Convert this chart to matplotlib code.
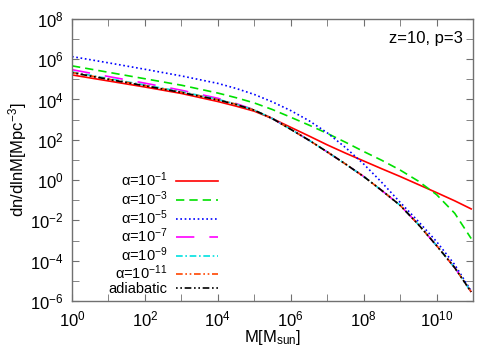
import matplotlib
matplotlib.use('Agg')
import matplotlib.pyplot as plt
from matplotlib.ticker import FixedLocator, NullFormatter

plt.rcParams['font.family'] = ['Liberation Sans', 'DejaVu Sans']
plt.rcParams['mathtext.fontset'] = 'custom'
plt.rcParams['mathtext.rm'] = 'Liberation Sans'
plt.rcParams['mathtext.it'] = 'Liberation Sans'

# log10 of halo mass [M_sun]
log_m = [0, 1, 2, 3, 4, 4.5, 5, 5.5, 6, 6.5, 7, 7.5, 8, 8.5, 9, 9.5, 10, 10.5, 10.95]

# log10 of dn/dlnM for each model
log_n_a1 = [5.22, 4.92, 4.62, 4.30, 3.90, 3.67, 3.42, 3.05, 2.62, 2.19, 1.75, 1.34,
            0.95, 0.56, 0.18, -0.22, -0.62, -1.03, -1.43]
log_n_a3 = [5.67, 5.35, 5.03, 4.71, 4.32, 4.09, 3.83, 3.50, 3.12, 2.73, 2.32, 1.88,
            1.42, 0.98, 0.50, -0.05, -0.72, -1.65, -2.90]
log_n_a5 = [6.13, 5.82, 5.50, 5.17, 4.80, 4.55, 4.25, 3.88, 3.45, 2.95, 2.35, 1.62,
            0.80, -0.12, -1.10, -2.05, -3.05, -4.20, -5.50]
log_n_a7 = [5.48, 5.14, 4.81, 4.46, 4.06, 3.80, 3.49, 3.05, 2.52, 1.98, 1.40, 0.80,
            0.18, -0.52, -1.25, -2.20, -3.25, -4.35, -5.55]
log_n_a9 = [5.37, 5.04, 4.72, 4.39, 4.01, 3.77, 3.48, 3.05, 2.52, 1.98, 1.40, 0.80,
            0.18, -0.52, -1.25, -2.20, -3.25, -4.35, -5.55]
log_n_a11 = [5.34, 5.01, 4.69, 4.36, 3.99, 3.76, 3.47, 3.05, 2.52, 1.98, 1.40, 0.80,
             0.18, -0.52, -1.25, -2.20, -3.25, -4.35, -5.55]
log_n_adi = [5.33, 5.00, 4.68, 4.35, 3.98, 3.75, 3.47, 3.05, 2.52, 1.98, 1.40, 0.80,
             0.18, -0.52, -1.25, -2.20, -3.25, -4.35, -5.55]

labels = [r'$\alpha$=10$^{-1}$', r'$\alpha$=10$^{-3}$', r'$\alpha$=10$^{-5}$',
          r'$\alpha$=10$^{-7}$', r'$\alpha$=10$^{-9}$', r'$\alpha$=10$^{-11}$',
          'adiabatic']
series = [log_n_a1, log_n_a3, log_n_a5, log_n_a7, log_n_a9, log_n_a11, log_n_adi]
colors = ['#ff0000', '#00e000', '#0000ff', '#ff00ff', '#00e0e0', '#ff4500', '#000000']
dashes = [None, (5, 3), (1, 1.6), (11, 9), (4, 1.6, 1, 1.6),
          (4, 1.6, 1, 1.6, 1, 1.6), (1, 1.6, 1, 1.6, 4, 1.6)]

mass = [10 ** v for v in log_m]

fig = plt.figure(figsize=(5, 3.5), dpi=100)
ax = fig.add_axes([0.144, 0.14, 0.802, 0.806])

for vals, lab, col, ds in zip(series, labels, colors, dashes):
    line, = ax.plot(mass, [10 ** v for v in vals], color=col, lw=1.2, label=lab)
    if ds is not None:
        line.set_dashes(ds)

ax.set_xscale('log')
ax.set_yscale('log')
ax.set_xlim(1, 1e11)
ax.set_ylim(1e-6, 1e8)

ax.xaxis.set_major_locator(FixedLocator([10.0 ** i for i in range(0, 12, 2)]))
ax.xaxis.set_minor_locator(FixedLocator([10.0 ** i for i in range(1, 12, 2)]))
ax.yaxis.set_major_locator(FixedLocator([10.0 ** i for i in range(-6, 9, 2)]))
ax.yaxis.set_minor_locator(FixedLocator([10.0 ** i for i in range(-5, 9, 2)]))
ax.xaxis.set_minor_formatter(NullFormatter())
ax.yaxis.set_minor_formatter(NullFormatter())
ax.set_xticklabels([r'10$^{%d}$' % i for i in range(0, 12, 2)])
ax.set_yticklabels([r'10$^{%d}$' % i for i in range(-6, 9, 2)])

for sp in ax.spines.values():
    sp.set_color('#707070')
    sp.set_linewidth(1.0)
ax.tick_params(which='both', direction='in', top=True, right=True,
               color='#707070', labelsize=12, pad=6, length=5)

ax.set_xlabel(r'M[M$_{\rm sun}$]', fontsize=12, labelpad=-1)
ax.set_ylabel(r'dn/dlnM[Mpc$^{-3}$]', fontsize=12, labelpad=1)

ax.text(0.975, 0.93, 'z=10, p=3', transform=ax.transAxes, ha='right',
        va='center', fontsize=12)

ax.legend(loc='lower left', bbox_to_anchor=(0.065, -0.02), frameon=False,
          markerfirst=False, fontsize=10.5, handlelength=2.9,
          labelspacing=0.0, handletextpad=0.6, borderaxespad=0.3)

fig.savefig('out.png', dpi=100)
